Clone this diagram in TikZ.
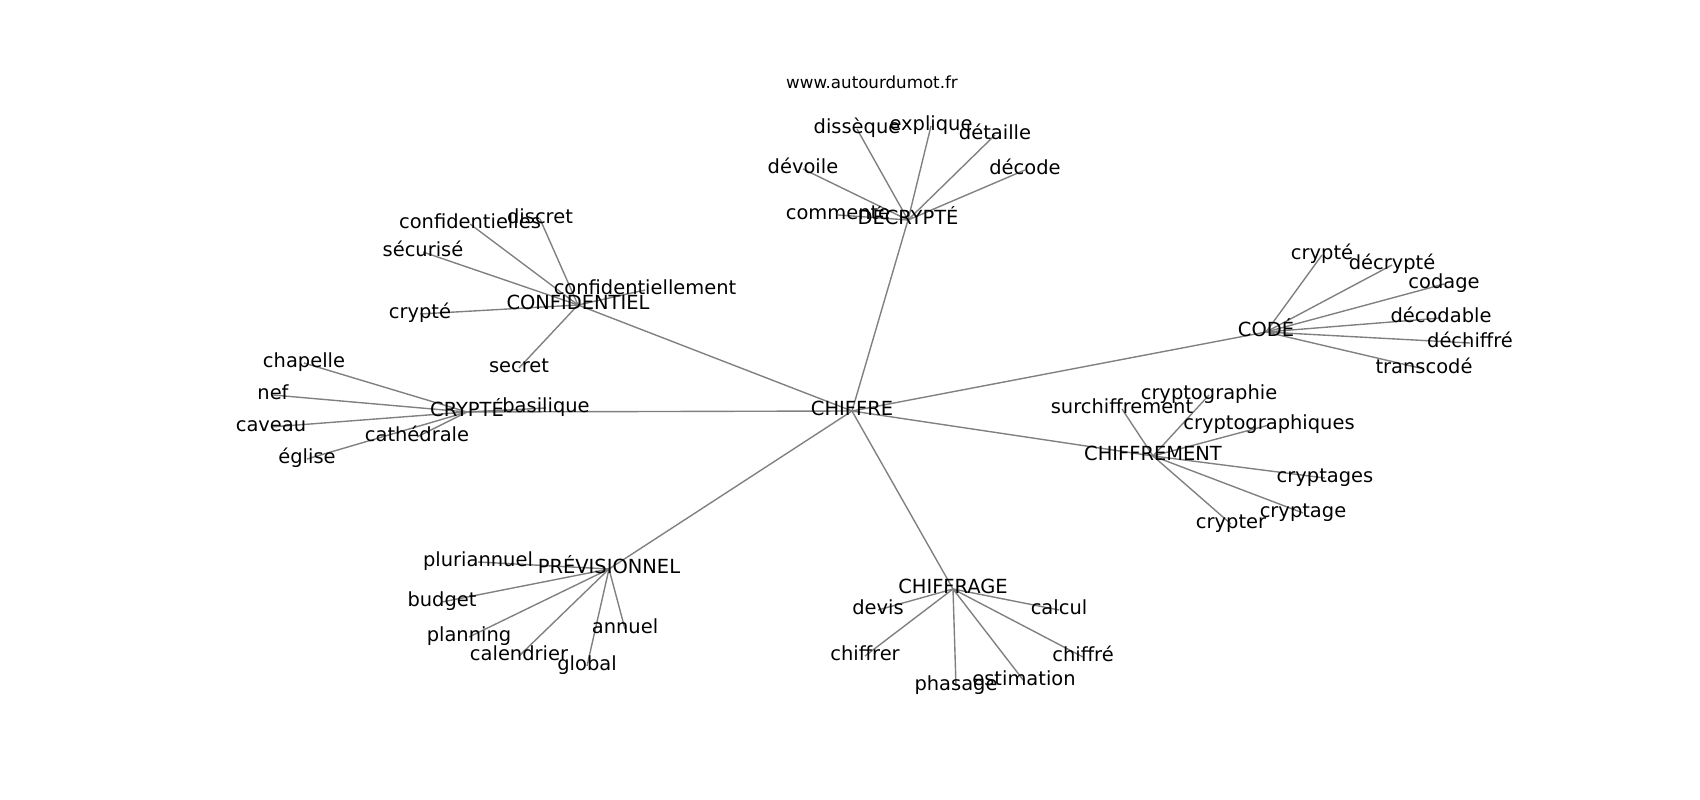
\documentclass[tikz,border=0pt]{standalone}
\usepackage{fontspec}
\setmainfont{DejaVu Sans}
\usetikzlibrary{backgrounds}
\tikzset{
  word/.style={
    inner sep=0pt, text height=0.85em, text depth=0.15em,
    font=\fontsize{14bp}{16bp}\selectfont,
  },
  link/.style={draw=gray, line width=1bp},
}

\begin{document}
\begin{tikzpicture}[x=0.01in, y=-0.01in]

                \useasboundingbox (0,0) rectangle (1700,800);
                \begin{scope}[shift={(0,2)}]
                \node[inner sep=0pt, font=\fontsize{12bp}{14bp}\selectfont] (site) at (872,80){www.autourdumot.fr};

                \node[word] (chiffre) at (852,409){CHIFFRE};

                \node[word] (decrypte) at (908,218){DÉCRYPTÉ};
                \node[word] (disseque) at (857,127){dissèque};
                \node[word] (explique) at (931,124){explique};
                \node[word] (detaille) at (995,133){détaille};
                \node[word] (devoile) at (803,167){dévoile};
                \node[word] (decode) at (1025,168){décode};
                \node[word] (commente) at (838,213){commente};

                \node[word] (confidentiel) at (578,303){CONFIDENTIEL};
                \node[word] (confidentielles) at (470,222){confidentielles};
                \node[word] (discret) at (540,217){discret};
                \node[word] (securise) at (423,250){sécurisé};
                \node[word] (crypteconf) at (420,312){crypté};
                \node[word] (confidentiellement) at (645,288){confidentiellement};
                \node[word] (secret) at (519,366){secret};

                \node[word] (crypte) at (467,410){CRYPTÉ};
                \node[word] (chapelle) at (304,361){chapelle};
                \node[word] (nef) at (273,393){nef};
                \node[word] (caveau) at (271,425){caveau};
                \node[word] (eglise) at (307,457){église};
                \node[word] (cathedrale) at (417,435){cathédrale};
                \node[word] (basilique) at (546,406){basilique};

                \node[word] (code) at (1266,330){CODÉ};
                \node[word] (cryptecode) at (1322,253){crypté};
                \node[word] (decryptecode) at (1392,263){décrypté};
                \node[word] (codage) at (1444,282){codage};
                \node[word] (decodable) at (1441,316){décodable};
                \node[word] (dechiffre) at (1470,341){déchiffré};
                \node[word] (transcode) at (1424,367){transcodé};

                \node[word] (chiffrement) at (1153,454){CHIFFREMENT};
                \node[word] (cryptographie) at (1209,393){cryptographie};
                \node[word] (surchiffrement) at (1122,407){surchiffrement};
                \node[word] (cryptographiques) at (1269,423){cryptographiques};
                \node[word] (cryptages) at (1325,476){cryptages};
                \node[word] (cryptage) at (1303,511){cryptage};
                \node[word] (crypter) at (1231,522){crypter};

                \node[word] (previsionnel) at (609,567){PRÉVISIONNEL};
                \node[word] (pluriannuel) at (478,560){pluriannuel};
                \node[word] (budget) at (442,600){budget};
                \node[word] (planning) at (469,635){planning};
                \node[word] (annuel) at (625,627){annuel};
                \node[word] (calendrier) at (519,654){calendrier};
                \node[word] (global) at (587,664){global};

                \node[word] (chiffrage) at (953,587){CHIFFRAGE};
                \node[word] (devis) at (878,608){devis};
                \node[word] (calcul) at (1059,608){calcul};
                \node[word] (chiffrer) at (865,654){chiffrer};
                \node[word] (chiffrechiffrage) at (1083,655){chiffré};
                \node[word] (phasage) at (956,684){phasage};
                \node[word] (estimation) at (1024,679){estimation};

                \begin{scope}[on background layer]
                \draw[link] (chiffre.center) -- (decrypte.center);
                \draw[link] (chiffre.center) -- (confidentiel.center);
                \draw[link] (chiffre.center) -- (crypte.center);
                \draw[link] (chiffre.center) -- (code.center);
                \draw[link] (chiffre.center) -- (chiffrement.center);
                \draw[link] (chiffre.center) -- (previsionnel.center);
                \draw[link] (chiffre.center) -- (chiffrage.center);

                \draw[link] (decrypte.center) -- (disseque.center);
                \draw[link] (decrypte.center) -- (explique.center);
                \draw[link] (decrypte.center) -- (detaille.center);
                \draw[link] (decrypte.center) -- (devoile.center);
                \draw[link] (decrypte.center) -- (decode.center);
                \draw[link] (decrypte.center) -- (commente.center);

                \draw[link] (confidentiel.center) -- (confidentielles.center);
                \draw[link] (confidentiel.center) -- (discret.center);
                \draw[link] (confidentiel.center) -- (securise.center);
                \draw[link] (confidentiel.center) -- (crypteconf.center);
                \draw[link] (confidentiel.center) -- (confidentiellement.center);
                \draw[link] (confidentiel.center) -- (secret.center);

                \draw[link] (crypte.center) -- (chapelle.center);
                \draw[link] (crypte.center) -- (nef.center);
                \draw[link] (crypte.center) -- (caveau.center);
                \draw[link] (crypte.center) -- (eglise.center);
                \draw[link] (crypte.center) -- (cathedrale.center);
                \draw[link] (crypte.center) -- (basilique.center);

                \draw[link] (code.center) -- (cryptecode.center);
                \draw[link] (code.center) -- (decryptecode.center);
                \draw[link] (code.center) -- (codage.center);
                \draw[link] (code.center) -- (decodable.center);
                \draw[link] (code.center) -- (dechiffre.center);
                \draw[link] (code.center) -- (transcode.center);

                \draw[link] (chiffrement.center) -- (cryptographie.center);
                \draw[link] (chiffrement.center) -- (surchiffrement.center);
                \draw[link] (chiffrement.center) -- (cryptographiques.center);
                \draw[link] (chiffrement.center) -- (cryptages.center);
                \draw[link] (chiffrement.center) -- (cryptage.center);
                \draw[link] (chiffrement.center) -- (crypter.center);

                \draw[link] (previsionnel.center) -- (pluriannuel.center);
                \draw[link] (previsionnel.center) -- (budget.center);
                \draw[link] (previsionnel.center) -- (planning.center);
                \draw[link] (previsionnel.center) -- (annuel.center);
                \draw[link] (previsionnel.center) -- (calendrier.center);
                \draw[link] (previsionnel.center) -- (global.center);

                \draw[link] (chiffrage.center) -- (devis.center);
                \draw[link] (chiffrage.center) -- (calcul.center);
                \draw[link] (chiffrage.center) -- (chiffrer.center);
                \draw[link] (chiffrage.center) -- (chiffrechiffrage.center);
                \draw[link] (chiffrage.center) -- (phasage.center);
                \draw[link] (chiffrage.center) -- (estimation.center);
                \end{scope}
                \end{scope}

        \end{tikzpicture}
\end{document}
